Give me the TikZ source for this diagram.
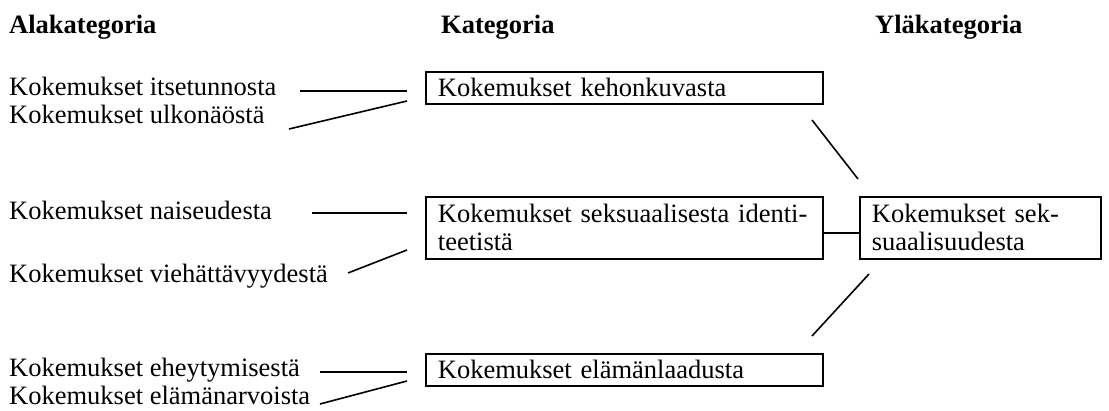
\documentclass[tikz,border=0pt]{standalone}
\usepackage{fontspec}
\setmainfont{Liberation Serif}
\tikzset{
  lbl/.style={anchor=base west, inner sep=0pt, font=\fontsize{26.5}{28}\selectfont},
  hdr/.style={anchor=base west, inner sep=0pt, font=\fontsize{26.5}{28}\selectfont\bfseries},
  catbox/.style={draw, line width=1.8pt, anchor=north west, inner xsep=12pt, inner ysep=0pt,
    align=left, font=\fontsize{26.5}{28}\selectfont},
  conn/.style={line width=1.6pt},
}
\begin{document}
\begin{tikzpicture}[x=1pt,y=-1pt]
\useasboundingbox (0,0) rectangle (1109,411);
% headers
\node[hdr] (h1) at (9,34) {Alakategoria};
\node[hdr] (h2) at (441,34) {Kategoria};
\node[hdr] (h3) at (875,34) {Yläkategoria};
% left labels
\node[lbl] (a1) at (9,96) {Kokemukset itsetunnosta};
\node[lbl] (a2) at (9,124) {Kokemukset ulkonäöstä};
\node[lbl] (a3) at (9,220) {Kokemukset naiseudesta};
\node[lbl] (a4) at (9,283) {Kokemukset viehättävyydestä};
\node[lbl] (a5) at (9,377) {Kokemukset eheytymisestä};
\node[lbl] (a6) at (9,405) {Kokemukset elämänarvoista};
% category boxes
\node[catbox, text width=373pt, minimum height=32pt] (b1) at (425,71) {Kokemukset kehonkuvasta};
\node[catbox, text width=373pt, minimum height=62pt] (b2) at (425,196) {\mbox{Kokemukset seksuaalisesta identi-}\\teetistä};
\node[catbox, text width=217pt, minimum height=62pt] (b3) at (859,196) {\mbox{Kokemukset sek-}\\suaalisuudesta};
\node[catbox, text width=373pt, minimum height=32pt] (b4) at (425,353) {Kokemukset elämänlaadusta};
% connector endpoints
\coordinate (p1s) at (300,91);  \coordinate (p1e) at (407,91);
\coordinate (p2s) at (289,129); \coordinate (p2e) at (407,101);
\coordinate (p3s) at (312,213); \coordinate (p3e) at (407,213);
\coordinate (p4s) at (348,273); \coordinate (p4e) at (407,250);
\coordinate (p5s) at (320,372); \coordinate (p5e) at (407,372);
\coordinate (p6s) at (320,404); \coordinate (p6e) at (407,381);
\coordinate (q1s) at (812,120); \coordinate (q1e) at (858,179);
\coordinate (q2s) at (869,274); \coordinate (q2e) at (812,336);
% connectors
\draw[conn] (p1s) -- (p1e);
\draw[conn] (p2s) -- (p2e);
\draw[conn] (p3s) -- (p3e);
\draw[conn] (p4s) -- (p4e);
\draw[conn] (p5s) -- (p5e);
\draw[conn] (p6s) -- (p6e);
\draw[conn] (q1s) -- (q1e);
\draw[conn] (q2s) -- (q2e);
\draw[conn] ([yshift=-5pt]b2.east) -- ([yshift=-5pt]b3.west);
\end{tikzpicture}
\end{document}
